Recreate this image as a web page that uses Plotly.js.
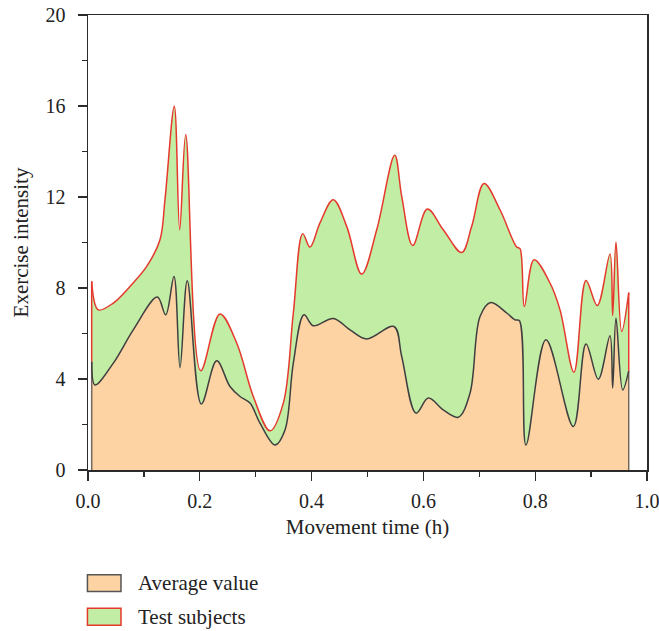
<!DOCTYPE html>
<html>
<head>
<meta charset="utf-8">
<script src="https://cdn.plot.ly/plotly-3.0.1.min.js"></script>
<style>html,body{margin:0;padding:0;background:#fff;}#chart{width:659px;height:631px;}</style>
</head>
<body>
<div id="chart"></div>
<script>
// Test subjects (upper, red) curve
const testX = [0.0066,0.0184,0.0453,0.0751,0.105,0.1288,0.1377,0.1544,0.164,0.1748,0.2016,0.2361,0.266,0.2957,0.3256,0.3494,0.3673,0.3841,0.3971,0.415,0.4388,0.4628,0.4896,0.5165,0.5487,0.5612,0.5809,0.607,0.6356,0.6685,0.6864,0.7084,0.737,0.7669,0.7728,0.7805,0.7979,0.8265,0.8444,0.8694,0.8909,0.9111,0.9338,0.9386,0.9445,0.9547,0.9673];
const testY = [8.29,7.04,7.34,8.07,8.95,10.12,11.88,15.99,10.56,14.74,4.36,6.86,5.58,3.23,1.72,2.94,6.9,10.39,9.8,10.86,11.88,10.71,8.61,10.56,13.83,12.03,9.87,11.47,10.56,9.56,10.71,12.59,11.44,9.8,9.73,7.19,9.24,8.22,7.04,4.3,8.33,7.23,9.49,6.79,10.02,6.09,7.8];
// Average value (lower, dark) curve
const avgX = [0.0066,0.0125,0.0453,0.081,0.124,0.139,0.1538,0.1646,0.1776,0.2027,0.2302,0.254,0.2719,0.2898,0.3077,0.3345,0.3524,0.3673,0.3864,0.403,0.4388,0.4687,0.4986,0.5474,0.5612,0.5868,0.6088,0.6356,0.6624,0.6834,0.7013,0.7204,0.749,0.7639,0.7716,0.7835,0.8193,0.8682,0.8909,0.9129,0.9338,0.9386,0.9445,0.9565,0.9673];
const avgY = [4.77,3.74,4.7,6.16,7.6,6.82,8.51,4.5,8.32,2.9,4.8,3.67,3.23,2.94,2.06,1.1,1.76,4.7,6.82,6.34,6.66,6.16,5.76,6.31,4.99,2.5,3.16,2.64,2.32,3.38,6.75,7.36,6.9,6.6,6.57,1.1,5.72,1.91,5.54,3.99,5.9,3.6,6.68,3.52,4.36];
const xTickVals = [0,0.2,0.4,0.6,0.8,1.0];
const xTickText = ['0.0','0.2','0.4','0.6','0.8','1.0'];
const yTickVals = [0,4,8,12,16,20];
const seriesNames = ['Average value','Test subjects'];

const ORANGE = '#FDD3A3', GREEN = '#C1EDA5', RED = '#E5392C', DARK = '#3f3f3f';
const FONT = 'Liberation Serif, Times New Roman, serif';

const last = a => a[a.length-1];
const traces = [
  {x: avgX, y: avgY, type:'scatter', mode:'lines', line:{shape:'spline', smoothing:1, color:DARK, width:1.5}, fill:'tozeroy', fillcolor:ORANGE, name:seriesNames[0], hoverinfo:'skip'},
  {x: testX, y: testY, type:'scatter', mode:'lines', line:{shape:'spline', smoothing:1, color:RED, width:1.5}, fill:'tonexty', fillcolor:GREEN, name:seriesNames[1], hoverinfo:'skip'},
  // vertical edges of the filled areas
  {x:[avgX[0],avgX[0]], y:[0,avgY[0]], mode:'lines', line:{color:'rgba(70,60,55,0.75)', width:1.5}, hoverinfo:'skip'},
  {x:[testX[0],testX[0]], y:[avgY[0],testY[0]], mode:'lines', line:{color:RED, width:1.5}, hoverinfo:'skip'},
  {x:[last(avgX),last(avgX)], y:[0,last(avgY)], mode:'lines', line:{color:'rgba(70,60,55,0.75)', width:1.5}, hoverinfo:'skip'},
  {x:[last(testX),last(testX)], y:[last(avgY),last(testY)], mode:'lines', line:{color:RED, width:1.5}, hoverinfo:'skip'}
];

const axisCommon = {showgrid:false, zeroline:false, showline:true, mirror:true, linecolor:'#2b2b2b', linewidth:1.5,
  ticks:'outside', ticklen:9, tickwidth:1.3, tickcolor:'#2b2b2b', ticklabeloverflow:'allow',
  tickfont:{family:FONT, size:20, color:'#222'}};

const layout = {
  width:659, height:631,
  margin:{l:88, r:12, t:15, b:161},
  paper_bgcolor:'#fff', plot_bgcolor:'#fff',
  showlegend:false,
  font:{family:FONT, color:'#222'},
  xaxis: Object.assign({}, axisCommon, {range:[0,1], tickvals:xTickVals, ticktext:xTickText, ticklabelstandoff:3,
    minor:{dtick:0.1, ticks:'outside', ticklen:5, tickwidth:1.2, tickcolor:'#2b2b2b'},
    title:{text:'Movement time (h)', font:{family:FONT, size:21, color:'#222'}, standoff:9}}),
  yaxis: Object.assign({}, axisCommon, {range:[0,20], tickvals:yTickVals, ticklabelstandoff:8,
    minor:{dtick:2, ticks:'outside', ticklen:5, tickwidth:1.2, tickcolor:'#2b2b2b'},
    title:{text:'Exercise intensity', font:{family:FONT, size:21, color:'#222'}, standoff:11}}),
  shapes:[
    {type:'rect', xref:'paper', yref:'paper', x0:-0.001, x1:0.059, y0:-0.267, y1:-0.230, fillcolor:ORANGE, line:{color:'#555', width:1.5}},
    {type:'rect', xref:'paper', yref:'paper', x0:-0.001, x1:0.059, y0:-0.341, y1:-0.304, fillcolor:GREEN, line:{color:RED, width:1.5}}
  ],
  annotations:[
    {xref:'paper', yref:'paper', x:0.085, y:-0.249, xanchor:'left', yanchor:'middle', showarrow:false, text:seriesNames[0], font:{family:FONT, size:21, color:'#222'}},
    {xref:'paper', yref:'paper', x:0.085, y:-0.323, xanchor:'left', yanchor:'middle', showarrow:false, text:seriesNames[1], font:{family:FONT, size:21, color:'#222'}}
  ]
};

Plotly.newPlot('chart', traces, layout, {displayModeBar:false, staticPlot:true});
</script>
</body>
</html>
